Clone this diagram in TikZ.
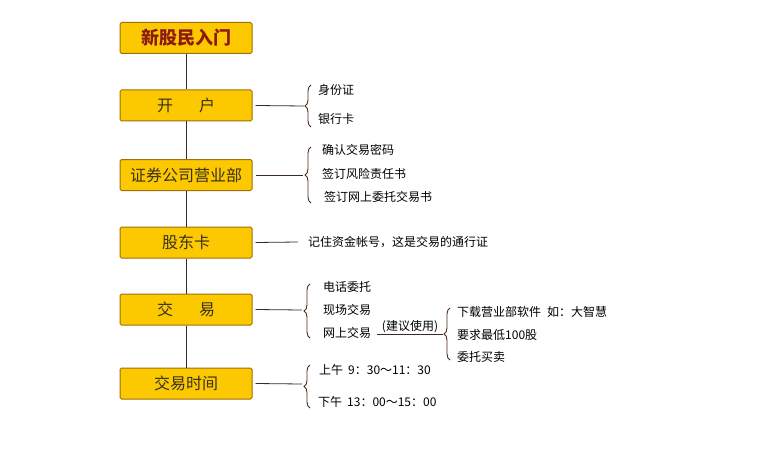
\documentclass[tikz,border=0pt]{standalone}
\usepackage{fontspec}
\setmainfont{Noto Sans CJK SC}
\usetikzlibrary{decorations.pathreplacing}
\definecolor{boxfill}{HTML}{FCC800}
\definecolor{boxline}{HTML}{A0700A}
\definecolor{titlered}{HTML}{8B1A10}
\definecolor{boxtext}{HTML}{3A3020}
\definecolor{linecol}{HTML}{3A2A20}
\definecolor{bracecol}{HTML}{4A2A1A}
\begin{document}
\begin{tikzpicture}[x=1pt,y=-1pt,
  stepbox/.style={draw=boxline,line width=1pt,fill=boxfill,rounded corners=1.5pt,
    minimum width=132pt,minimum height=31pt,inner sep=0pt,text=boxtext,
    font=\fontsize{16}{18}\selectfont},
  side/.style={anchor=west,inner sep=0pt,text=black,font=\fontsize{12}{14}\selectfont},
  conn/.style={draw=linecol,line width=0.8pt},
  brc/.style={draw=bracecol,line width=0.9pt,decorate,decoration={brace,amplitude=6pt}}]
\useasboundingbox (0,0) rectangle (760,468);
\fill[white] (0,0) rectangle (760,468);
% boxes
\node[stepbox,text=titlered,font=\fontsize{18}{20}\selectfont\bfseries] (b1) at (186,38) {新股民入门};
\node[stepbox] (b2) at (186,105.5) {开\hspace{26pt}户};
\node[stepbox] (b3) at (186,175) {证券公司营业部};
\node[stepbox] (b4) at (186,242.5) {股东卡};
\node[stepbox] (b5) at (186,309.5) {交\hspace{26pt}易};
\node[stepbox] (b6) at (186,383.5) {交易时间};
% vertical connectors
\draw[conn] (b1) -- (b2);
\draw[conn] (b2) -- (b3);
\draw[conn] (b3) -- (b4);
\draw[conn] (b4) -- (b5);
\draw[conn] (b5) -- (b6);
% box 2
\coordinate (t2) at (304,106);
\draw[conn] (b2.east) ++(3,0) coordinate (s2) (s2) -- (t2);
\draw[brc] (311,127) -- (311,85);
\node[side] (k1) at (318,90) {身份证};
\node[side] (k2) at (318,119) {银行卡};
% box 3
\coordinate (t3) at (303,175);
\draw[conn] (b3.east) ++(3,0) coordinate (s3) (s3) -- (t3);
\draw[brc] (311,203) -- (311,147);
\node[side] (z1) at (322,150) {确认交易密码};
\node[side] (z2) at (322,174) {签订风险责任书};
\node[side] (z3) at (324,197) {签订网上委托交易书};
% box 4
\coordinate (t4) at (298,242);
\draw[conn] (b4.east) ++(3,0) coordinate (s4) (s4) -- (t4);
\node[side] (g1) at (308,242) {记住资金帐号，这是交易的通行证};
% box 5
\coordinate (t5) at (302,310);
\draw[conn] (b5.east) ++(3,0) coordinate (s5) (s5) -- (t5);
\draw[brc] (310,338) -- (310,284);
\node[side] (j1) at (323,287) {电话委托};
\node[side] (j2) at (323,310) {现场交易};
\node[side] (j3) at (323,333) {网上交易};
\coordinate (w1) at (377,334);
\coordinate (w2) at (443,334);
\draw[conn,line width=0.6pt] (w1) -- node[above=0pt,inner sep=1pt,font=\fontsize{12}{14}\selectfont] {(建议使用)} (w2);
\draw[brc] (450,360) -- (450,308);
\node[side] (n1) at (457,312) {下载营业部软件\hspace{6pt}如：大智慧};
\node[side] (n2) at (457,335) {要求最低100股};
\node[side] (n3) at (457,357) {委托买卖};
% box 6
\coordinate (t6) at (302,384);
\draw[conn] (b6.east) ++(3,0) coordinate (s6) (s6) -- (t6);
\draw[brc] (310,408) -- (310,365);
\node[side] (m1) at (319,370) {上午\hspace{5pt}9：30～11：30};
\node[side] (m2) at (318,402) {下午\hspace{5pt}13：00～15：00};
\end{tikzpicture}
\end{document}
